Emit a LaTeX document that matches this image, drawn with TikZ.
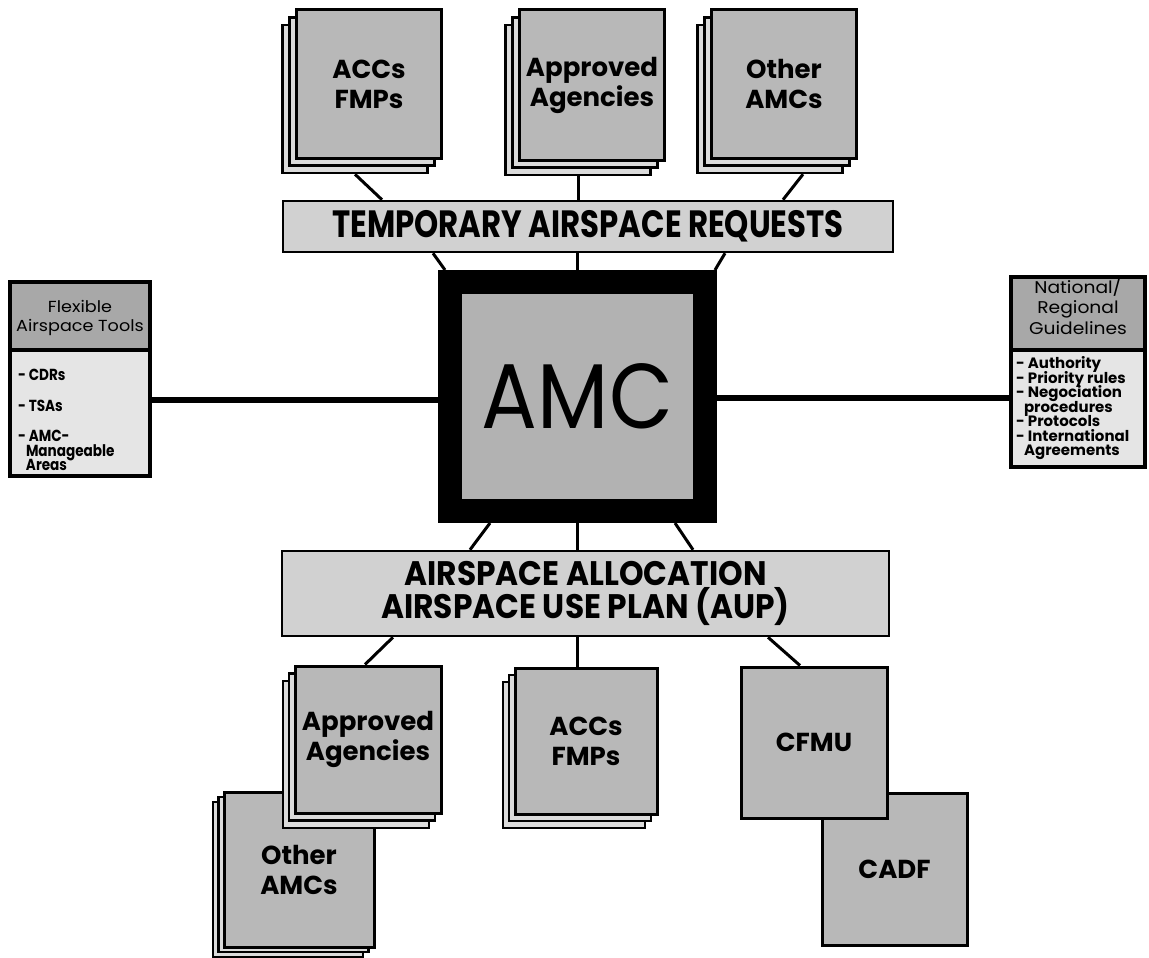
\documentclass[tikz,border=0pt]{standalone}
\usepackage{fontspec}
\setmainfont{Poppins}
\newfontfamily\capsfont[FakeStretch=0.81]{Poppins}
\newfontfamily\capsfontb[FakeStretch=0.92]{Poppins}
\newfontfamily\amcfont[FakeStretch=0.90]{Poppins}
\newfontfamily\panelfont[FakeStretch=0.85]{Poppins}
\newfontfamily\headfont[FakeStretch=1.1]{Poppins}
\definecolor{boxgray}{gray}{0.72}
\definecolor{bargray}{gray}{0.82}
\definecolor{laygray}{gray}{0.86}
\definecolor{bodygray}{gray}{0.90}
\definecolor{headgray}{gray}{0.66}
\definecolor{amcgray}{gray}{0.70}
\newcommand\lline[1]{\hbox to \hsize{#1\hfil}}
\newcommand\cenline[1]{\hbox to \hsize{\hss #1\hss}}
\newcommand\plines[3]{\vbox{\hsize=#1\baselineskip=#2\lineskiplimit=-30pt\lineskip=0pt\relax #3}}
\newcommand\pstack[8]{%
  \node[layer,minimum width=#4pt,minimum height=#5pt] (#13) at ({#2+2*(#6)},{#3+2*(#7)}) {};
  \node[layer,minimum width=#4pt,minimum height=#5pt] (#12) at ({#2+#6},{#3+#7}) {};
  \node[box,minimum width=#4pt,minimum height=#5pt] (#1) at (#2,#3) {#8};}
\begin{document}
\begin{tikzpicture}[x=1pt,y=-1pt,
  box/.style={draw,line width=3pt,fill=boxgray,inner sep=0pt,align=center,
    font=\bfseries\fontsize{26}{30}\selectfont},
  layer/.style={draw,line width=2.5pt,fill=laygray,inner sep=0pt},
  bar/.style={draw,line width=2.5pt,fill=bargray,inner sep=0pt,align=center},
  panelbox/.style={draw,line width=4pt,inner sep=0pt},
  conn/.style={line width=3pt},
  side/.style={line width=6pt}]
\fill[white] (0,0) rectangle (1149,958);
\useasboundingbox (0,0) rectangle (1149,958);

% top stacks
\pstack{tACC}{369}{84}{145}{148}{-7}{7.5}{ACCs\\FMPs}
\pstack{tAPP}{592}{85}{145}{150}{-7}{7.5}{Approved\\Agencies}
\pstack{tOTH}{784}{84}{145}{148}{-7}{7.5}{Other\\AMCs}

% top bar
\node[bar,minimum width=610pt,minimum height=51pt,
  font=\capsfont\bfseries\fontsize{38}{40}\selectfont] (tbar) at (588,226.5)
  {TEMPORARY AIRSPACE REQUESTS};

% AMC
\node[draw,line width=24pt,fill=amcgray,minimum width=255pt,minimum height=229pt,
  inner sep=0pt,font=\amcfont\fontsize{92}{96}\selectfont] (amc) at (577.5,396.5) {AMC};

% bottom bar
\node[bar,minimum width=607pt,minimum height=85pt,
  font=\capsfontb\bfseries\fontsize{34}{30}\selectfont] (bbar) at (585.5,593.5)
  {AIRSPACE ALLOCATION\\AIRSPACE USE PLAN (AUP)};

% bottom boxes
\pstack{bOTH}{299}{869.5}{150}{155}{-5.5}{5}{Other\\AMCs}
\pstack{bAPP}{368}{739.5}{146}{147}{-6}{7.5}{Approved\\Agencies}
\pstack{bACC}{586}{741}{142}{146}{-6}{7}{ACCs\\FMPs}
\node[box,minimum width=145pt,minimum height=152pt] (cadf) at (894.5,869) {CADF};
\node[box,minimum width=146pt,minimum height=151pt] (cfmu) at (814,742.5) {CFMU};

% left panel
\node[panelbox,fill=headgray,minimum width=140pt,minimum height=68pt,
  font=\headfont\fontsize{16}{19}\selectfont] (lhead) at (80,316)
  {\plines{132pt}{19pt}{\cenline{Flexible}\cenline{Airspace Tools}\vskip-4pt}};
\node[panelbox,fill=bodygray,minimum width=140pt,minimum height=126pt,
  font=\panelfont\bfseries\fontsize{16}{14.5}\selectfont] (lbody) at (80,413)
  {\plines{124pt}{14.5pt}{\vskip14pt\lline{- CDRs}\vskip16pt\lline{- TSAs}\vskip16pt
   \lline{- AMC-}\lline{\hspace*{8pt}Manageable}\lline{\hspace*{8pt}Areas}}};

% right panel
\node[panelbox,fill=headgray,minimum width=134pt,minimum height=72pt,
  font=\headfont\fontsize{17}{20}\selectfont] (rhead) at (1078,314)
  {\plines{130pt}{20.5pt}{\cenline{National/}\cenline{Regional}\cenline{Guidelines}\vskip16pt}};
\node[panelbox,fill=bodygray,minimum width=134pt,minimum height=117pt,
  font=\bfseries\fontsize{15}{14.5}\selectfont] (rbody) at (1078,408.5)
  {\plines{124pt}{14.5pt}{\lline{- Authority}\lline{- Priority rules}\lline{- Negociation}%
   \lline{\hspace*{8pt}procedures}\lline{- Protocols}\lline{- International}%
   \lline{\hspace*{8pt}Agreements}}};

% connectors top
\draw[conn] (tACC3.south) -- (382,0 |- tbar.north);
\draw[conn] (tAPP3.south) -- (tAPP3.south |- tbar.north);
\draw[conn] (803,0 |- tOTH3.south) -- (783,0 |- tbar.north);
\draw[conn] (433,0 |- tbar.south) -- (445,0 |- amc.north);
\draw[conn] (amc.north) -- (amc.north |- tbar.south);
\draw[conn] (725,0 |- tbar.south) -- (715,0 |- amc.north);
% connectors bottom
\draw[conn] (490,0 |- amc.south) -- (470,0 |- bbar.north);
\draw[conn] (amc.south) -- (amc.south |- bbar.north);
\draw[conn] (675,0 |- amc.south) -- (693,0 |- bbar.north);
\draw[conn] (393,0 |- bbar.south) -- (365,0 |- bAPP.north);
\draw[conn] (amc.south |- bbar.south) -- (amc.south |- bACC.north);
\draw[conn] (768,0 |- bbar.south) -- (800,0 |- cfmu.north);
% side connectors
\draw[side] (lbody.east |- 0,400) -- (amc.west |- 0,400);
\draw[side] (amc.east |- 0,398) -- (rbody.west |- 0,398);
\end{tikzpicture}
\end{document}
